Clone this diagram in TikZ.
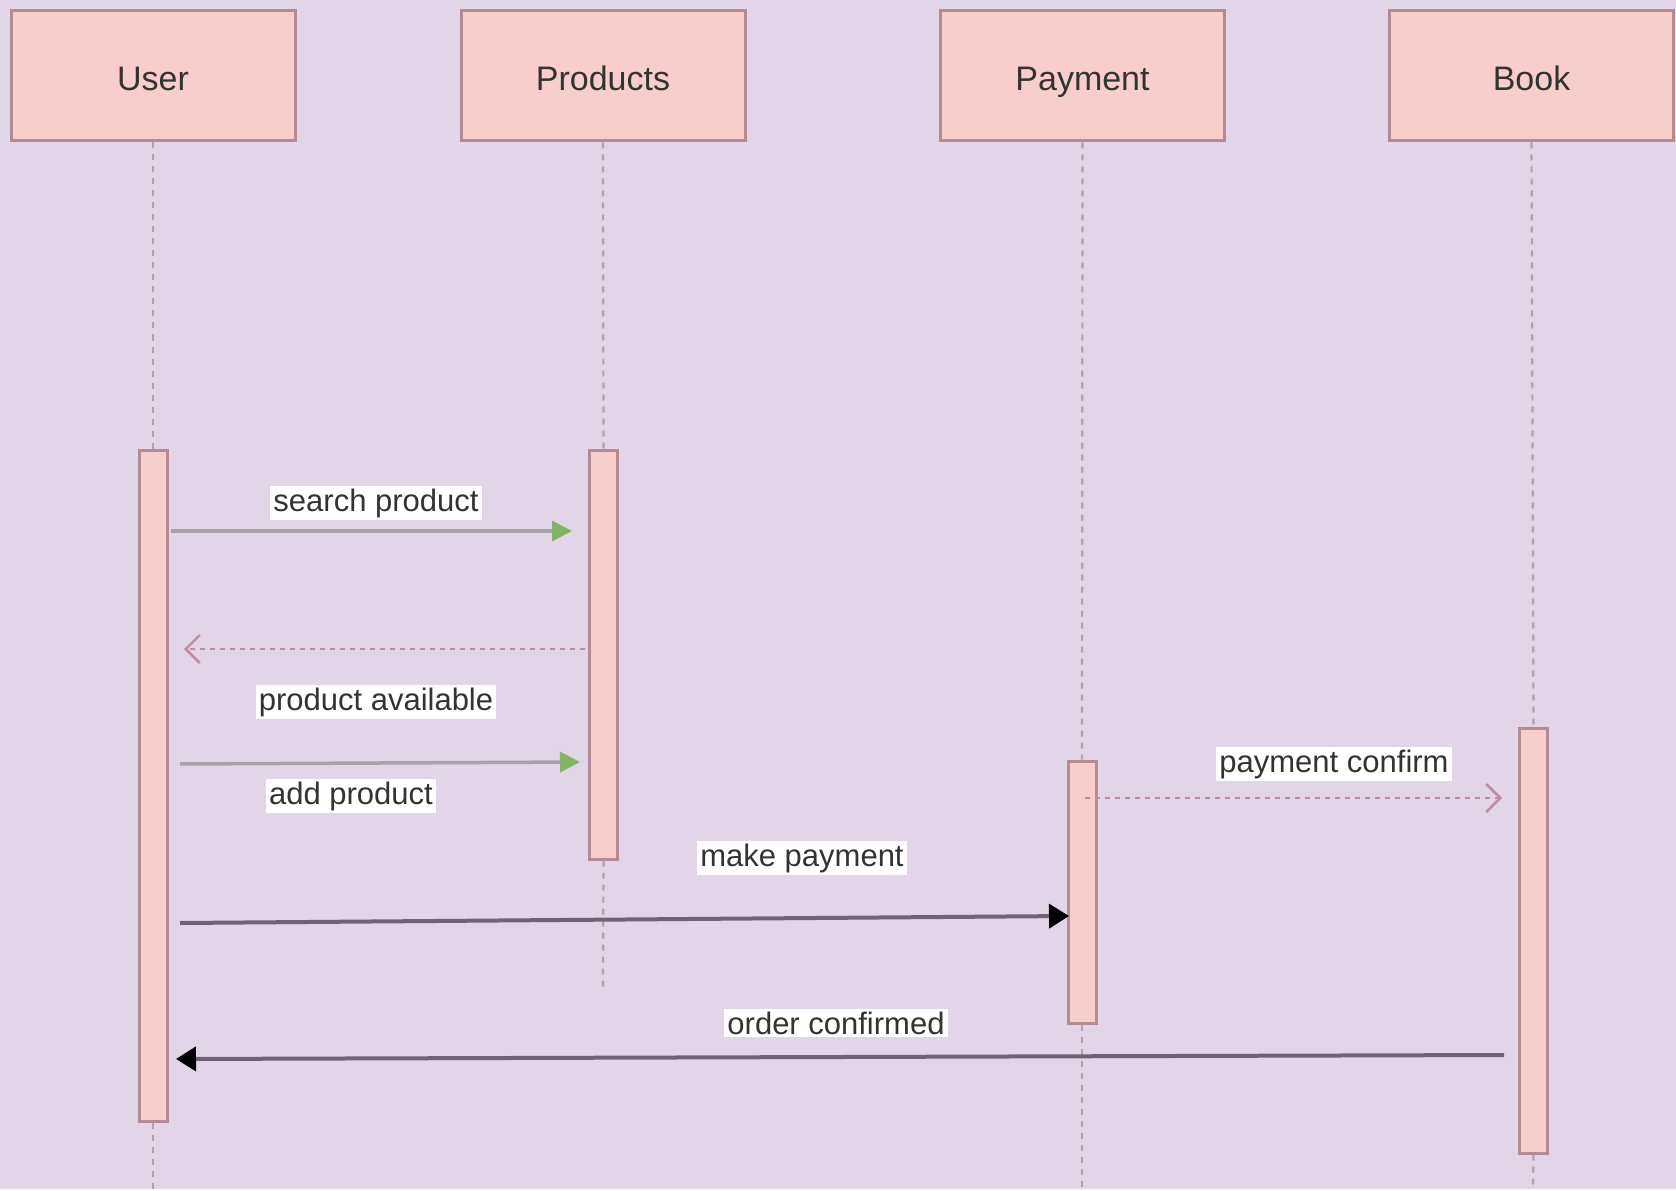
\documentclass[tikz,border=0pt]{standalone}
\usepackage{fontspec}
\setmainfont{Liberation Sans}
\usetikzlibrary{arrows.meta}
\definecolor{bgc}{HTML}{E1D5E7}
\definecolor{pinkf}{HTML}{F8CECC}
\definecolor{pinks}{HTML}{B48A94}
\definecolor{lifec}{HTML}{B89EB2}
\definecolor{txt}{HTML}{333333}
\definecolor{greenh}{HTML}{82B366}
\definecolor{grayl}{HTML}{A8A2A8}
\definecolor{retc}{HTML}{C08CA0}
\definecolor{darkl}{HTML}{6E6274}
\tikzset{
  hdr/.style={draw=pinks, fill=pinkf, line width=3pt, minimum width=284pt, minimum height=130pt, inner sep=0pt, text=txt, text height=35pt, text depth=5pt, font=\fontsize{34}{40}\selectfont},
  actbar/.style={draw=pinks, fill=pinkf, line width=3pt, minimum width=28pt, inner sep=0pt},
  lifeline/.style={draw=lifec, line width=2.2pt, dash pattern=on 6pt off 6pt},
  lbl/.style={fill=white, text=txt, inner sep=3pt, font=\fontsize{31}{37}\selectfont},
  callgreen/.style={draw=grayl, line width=3.5pt, -{Triangle[length=20pt,width=20pt,fill=greenh,color=greenh]}},
  retmsg/.style={draw=retc, line width=2.8pt, dash pattern=on 5pt off 5pt, -{Straight Barb[length=14pt,width=28pt,line width=2.5pt]}},
  callblack/.style={draw=darkl, line width=4pt, -{Triangle[length=20pt,width=24pt,fill=black,color=black]}},
}
\begin{document}
\begin{tikzpicture}[x=1pt,y=-1pt]
\path[fill=bgc] (0,0) rectangle (1676,1189);
% headers
\node[hdr] (user) at (153,76) {User};
\node[hdr] (prod) at (603,76) {Products};
\node[hdr] (pay) at (1082.5,76) {Payment};
\node[hdr] (book) at (1531.5,76) {Book};
% activation bars
\node[actbar, minimum height=671pt] (useract) at (153,785.5) {};
\node[actbar, minimum height=409pt] (prodact) at (603.5,654.5) {};
\node[actbar, minimum height=262pt] (payact) at (1082,892) {};
\node[actbar, minimum height=425pt] (bookact) at (1533.5,940.5) {};
% lifeline ends
\coordinate (userend) at (153,1189);
\coordinate (prodend) at (603,989);
\coordinate (payend) at (1082,1189);
\coordinate (bookend) at (1533,1189);
% lifelines
\draw[lifeline] (user.south) -- (useract.north);
\draw[lifeline] (useract.south) -- (userend);
\draw[lifeline] (prod.south) -- (prodact.north);
\draw[lifeline] (prodact.south) -- (prodend);
\draw[lifeline] (pay.south) -- (payact.north);
\draw[lifeline] (payact.south) -- (payend);
\draw[lifeline] (book.south) -- (bookact.north);
\draw[lifeline] (bookact.south) -- (bookend);
% message end points
\coordinate (m1a) at (171,531);
\coordinate (m1b) at (572,531);
\coordinate (m2a) at (585,649);
\coordinate (m2b) at (184,649);
\coordinate (m3a) at (180,764);
\coordinate (m3b) at (580,762);
\coordinate (m4a) at (1085,798);
\coordinate (m4b) at (1502,798);
\coordinate (m5a) at (180,923);
\coordinate (m5b) at (1069,916);
\coordinate (m6a) at (1504,1055);
\coordinate (m6b) at (176,1059);
% messages
\draw[callgreen] (m1a) -- (m1b);
\draw[retmsg] (m2a) -- (m2b);
\draw[callgreen] (m3a) -- (m3b);
\draw[retmsg] (m4a) -- (m4b);
\draw[callblack] (m5a) -- (m5b);
\draw[callblack] (m6a) -- (m6b);
% labels
\node[lbl] (l1) at (376,503) {search product};
\node[lbl] (l2) at (376,702) {product available};
\node[lbl] (l3) at (351,796) {add product};
\node[lbl] (l4) at (1334,764) {payment confirm};
\node[lbl] (l5) at (802,858) {make payment};
\node[lbl] (l6) at (836,1023) {order confirmed};
\end{tikzpicture}
\end{document}
